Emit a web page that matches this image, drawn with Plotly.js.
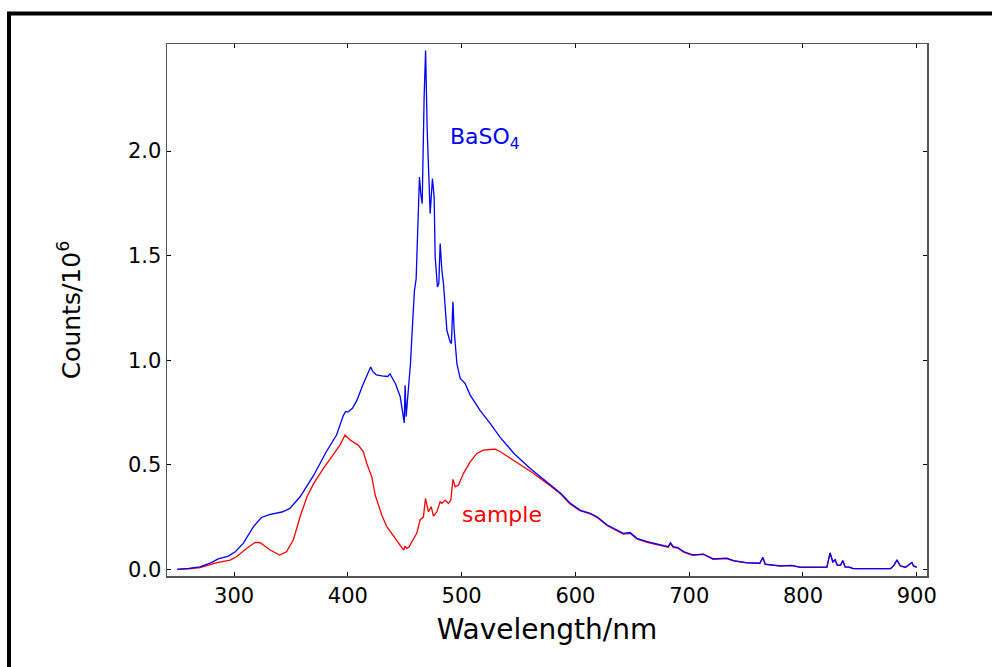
<!DOCTYPE html>
<html>
<head>
<meta charset="utf-8">
<script src="https://cdn.plot.ly/plotly-3.0.1.min.js"></script>
<style>
  html, body { margin: 0; padding: 0; background: #ffffff; }
  #chart { width: 992px; height: 667px; }
</style>
</head>
<body>
<div id="chart"></div>
<script>
// BaSO4 reference spectrum (wavelength nm, counts / 10^6)
const baso4Wavelength = [250,260,270,280,286,290,295,301,308,317,324,331,342,349,358,370,381,390,396,398,400,404,408,413,417,420,422,425,430,435,437,439,442,446,448,449.5,450.3,451.2,453,455,457,458.5,460,462.9,464,465.3,467,468.3,469.7,471,472.3,474.3,475.8,476.7,478.7,479.9,481.1,482.6,484,487,489.9,491,492.3,493.4,495.8,498.7,503,507.5,516,525,534,541,546,560,575,587,595,604,613,619,628,636,642,648,654,663,674,681.5,683.5,686,690,695,703,708,712.5,721,733,739,750,762,764.7,766.8,780,790,797.6,821,823.8,826.2,828.2,830.2,833,835,837,841,844,877,880,882.6,885.5,890,895.7,897.2,900];
const baso4Counts = [0.0,0.004,0.012,0.032,0.05,0.057,0.063,0.084,0.124,0.204,0.248,0.262,0.274,0.291,0.347,0.45,0.562,0.642,0.735,0.755,0.752,0.77,0.809,0.88,0.93,0.967,0.945,0.93,0.925,0.922,0.935,0.915,0.885,0.825,0.76,0.70,0.88,0.73,0.85,0.984,1.19,1.334,1.39,1.876,1.80,1.749,2.258,2.481,2.099,1.85,1.701,1.868,1.78,1.494,1.35,1.366,1.558,1.43,1.366,1.143,1.087,1.08,1.279,1.143,0.984,0.913,0.889,0.833,0.761,0.698,0.63,0.586,0.554,0.483,0.419,0.364,0.318,0.283,0.268,0.251,0.212,0.188,0.172,0.176,0.148,0.132,0.116,0.108,0.127,0.108,0.104,0.085,0.069,0.07,0.073,0.05,0.053,0.041,0.032,0.029,0.057,0.025,0.016,0.019,0.01,0.01,0.079,0.036,0.046,0.02,0.02,0.042,0.012,0.01,0.003,0.003,0.02,0.045,0.017,0.01,0.033,0.016,0.01];

// Sample spectrum
const sampleWavelength = [250,260,270,285,296.5,302,311,318.5,323,331.6,340,346,352,358,364,370,378.5,387,393,397.5,402,409,413.6,416.6,421,424,429.8,434.2,441,446,449,450.3,451.8,453.5,457,460.5,462,463.5,466.4,468.2,470.8,473.2,475.2,478.2,481.1,482.6,485.5,488.4,490.5,492.3,494.3,497.2,501.6,507.5,513.3,519,525,529.5,534,540,551.5,563,575,587,595,604,613,619,628,636,642,648,654,663,674,681.5,683.5,686,690,695,703,712.5,721,733,739,750,762,764.7,766.8,780,790,797.6,821,823.8,826.2,828.2,830.2,833,835,837,841,844,877,880,882.6,885.5,890,895.7,897.2,900];
const sampleCounts = [0.0,0.002,0.008,0.032,0.044,0.06,0.1,0.129,0.127,0.092,0.068,0.084,0.14,0.251,0.347,0.411,0.483,0.546,0.594,0.642,0.618,0.594,0.562,0.506,0.442,0.355,0.259,0.204,0.15,0.116,0.092,0.111,0.1,0.105,0.14,0.172,0.204,0.236,0.251,0.339,0.275,0.299,0.255,0.275,0.323,0.315,0.331,0.315,0.331,0.43,0.395,0.403,0.459,0.514,0.554,0.57,0.573,0.575,0.562,0.541,0.498,0.459,0.411,0.36,0.313,0.28,0.265,0.248,0.208,0.184,0.168,0.172,0.145,0.129,0.113,0.105,0.122,0.105,0.101,0.082,0.067,0.071,0.048,0.051,0.04,0.031,0.028,0.055,0.024,0.015,0.018,0.009,0.009,0.077,0.035,0.045,0.019,0.019,0.041,0.011,0.009,0.003,0.003,0.019,0.044,0.016,0.009,0.032,0.015,0.009];

const xTickValues = [300,400,500,600,700,800,900];
const yTickValues = [0.0,0.5,1.0,1.5,2.0];

const FONT = "DejaVu Sans, Liberation Sans, Arial, sans-serif";

const traces = [
  { x: sampleWavelength, y: sampleCounts, type: 'scatter', mode: 'lines',
    name: 'sample', line: { color: '#ff0000', width: 1.3 }, hoverinfo: 'x+y' },
  { x: baso4Wavelength, y: baso4Counts, type: 'scatter', mode: 'lines',
    name: 'BaSO4', line: { color: '#0000ff', width: 1.3 }, hoverinfo: 'x+y' },
  { x: [], y: [], yaxis: 'y2', type: 'scatter', mode: 'lines', showlegend: false, hoverinfo: 'skip' }
];

const axisCommon = {
  showgrid: false, zeroline: false, showline: true, linecolor: '#555555', linewidth: 1.5,
  ticks: 'inside', ticklen: 4, tickwidth: 1, tickcolor: '#000000',
  tickfont: { family: FONT, size: 21, color: '#000000' }
};

const layout = {
  width: 992, height: 667,
  paper_bgcolor: '#ffffff', plot_bgcolor: '#ffffff',
  margin: { l: 167, r: 65, t: 43.5, b: 91, pad: 0 },
  showlegend: false,
  xaxis: Object.assign({}, axisCommon, {
    range: [241, 909], tickvals: xTickValues, mirror: 'ticks',
    title: { text: 'Wavelength/nm', font: { family: FONT, size: 28, color: '#000000' }, standoff: 12 }
  }),
  yaxis: Object.assign({}, axisCommon, {
    range: [-0.032, 2.512], tickvals: yTickValues, tickformat: '.1f', mirror: true,
    title: { text: 'Counts/10<sup>6</sup>', font: { family: FONT, size: 25, color: '#000000' }, standoff: 40 }
  }),
  yaxis2: {
    overlaying: 'y', side: 'right', range: [-0.032, 2.512], tickvals: yTickValues,
    showgrid: false, zeroline: false, showline: false, showticklabels: false,
    ticks: 'inside', ticklen: 4, tickwidth: 1, tickcolor: '#000000'
  },
  annotations: [
    { x: 488, y: 2.06, xref: 'x', yref: 'y', text: 'BaSO<sub>4</sub>', showarrow: false,
      xanchor: 'left', yanchor: 'middle', font: { family: FONT, size: 22, color: '#0000ff' } },
    { x: 498.5, y: 0.26, xref: 'x', yref: 'y', text: 'sample', showarrow: false,
      xanchor: 'left', yanchor: 'middle', font: { family: FONT, size: 22, color: '#ff0000' } }
  ],
  shapes: [
    { type: 'path', xref: 'paper', yref: 'paper',
      path: 'M -0.2079,-0.25 L -0.2079,1.0573 L 1.12,1.0573',
      line: { color: '#000000', width: 4 } }
  ]
};

Plotly.newPlot('chart', traces, layout, { displayModeBar: false, staticPlot: true });
</script>
</body>
</html>
